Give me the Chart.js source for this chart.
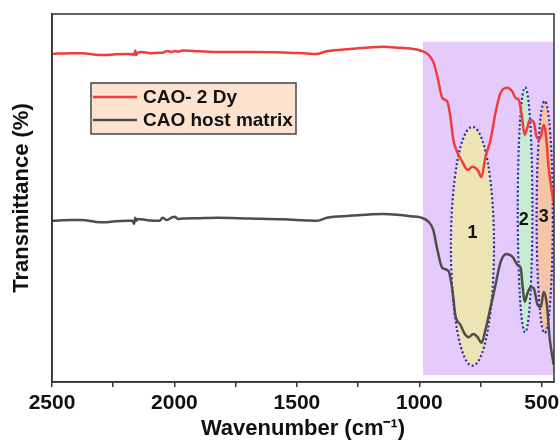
<!DOCTYPE html>
<html><head><meta charset="utf-8">
<script src="https://cdn.jsdelivr.net/npm/chart.js@4.4.1/dist/chart.umd.min.js"></script>
<style>html,body{margin:0;padding:0;background:#fff}</style>
</head><body>
<canvas id="c" width="560" height="440"></canvas>
<script>
const seriesNames = ['CAO- 2 Dy', 'CAO host matrix'];
const xAxisTitle = 'Wavenumber (cm\u207B\u00B9)';
const yAxisTitle = 'Transmittance (%)';

const redWavenumbers = [2500,2420,2377,2320,2287,2240,2190,2172,2165,2160,2156,2150,2135,2100,2060,2049,2030,2010,2000,1985,1967,1900,1828,1693,1557,1460,1418,1400,1377,1283,1148,1078,1037,996,963,943,926,906,885,873,861,844,824,803,783,762,746,730,709,689,668,640,619,607,594,582,570,558,549,533,521,508,492,484,471,455,450];
const redValues = [86.3,86.5,86.5,86.1,86.0,86.2,86.3,86.2,86.0,87.2,86.0,86.6,86.8,86.5,86.6,86.6,87.1,86.8,87.1,86.9,87.2,87.0,86.8,86.8,86.7,86.4,86.3,86.6,87.0,87.6,88.2,87.9,87.7,87.2,86.1,84.2,80.3,74.7,73.7,69.7,63.7,60.3,57.9,55.8,56.6,55.8,53.9,59.2,63.7,70.8,76.1,77.4,76.3,74.7,74.2,70.3,65.0,67.1,68.9,68.4,64.5,63.9,67.6,65.5,55.8,48.7,47.0];

const grayWavenumbers = [2500,2420,2377,2320,2287,2240,2190,2172,2165,2160,2156,2150,2135,2100,2060,2049,2030,2010,2000,1985,1967,1900,1828,1693,1557,1460,1418,1400,1377,1283,1148,1078,1037,996,963,943,926,906,881,865,853,832,812,799,779,762,746,730,709,689,668,644,619,599,586,578,570,558,545,533,517,504,492,480,467,451];
const grayValues = [42.4,42.6,42.6,42.1,42.0,42.3,42.4,42.4,41.6,43.2,42.4,42.9,42.8,42.5,42.4,43.2,42.6,43.3,43.5,42.9,43.0,43.1,43.2,43.0,42.8,42.5,42.4,42.7,43.2,43.7,44.2,43.9,43.6,43.3,42.2,40.0,34.7,30.0,29.2,24.2,17.6,15.0,12.4,11.8,12.6,11.8,10.3,13.7,19.7,25.5,31.6,33.7,32.9,30.8,30.0,25.0,21.1,23.4,25.0,24.7,20.3,19.7,23.7,20.8,11.1,4.5];

const xTickValues = [500,750,1000,1250,1500,1750,2000,2250,2500];
const xTickLabels = ['500','','1000','','1500','','2000','','2500'];

// shaded fingerprint region (wavenumber range and transmittance span)
const regionFrom = 985, regionTo = 450, regionLow = 1.8, regionHigh = 89.5;
// band ellipses (centre wavenumber / level, half-extent in data units)
const bandNames = ['1','2','3'];
const bandCenters = [783, 568, 488];
const bandLevels = [35.7, 45.3, 43.4];
const bandHalfWidths = [88, 30, 33];
const bandHalfHeights = [31.4, 32.2, 30.5];
const bandLabelCenters = [783, 574, 492];
const bandLabelLevels = [39.2, 42.6, 43.4];

const FONT = '"Liberation Sans", Arial, sans-serif';
const seriesColors = ['#f03c3c', '#4d4d4d'];

const mk = (xs, ys) => xs.map((w, i) => ({x: w, y: ys[i]}));

const decor = {
  id: 'decor',
  beforeDatasetsDraw(chart) {
    const {ctx, scales: {x, y}, chartArea: a} = chart;
    ctx.save();
    ctx.beginPath(); ctx.rect(a.left, a.top, a.right - a.left, a.bottom - a.top); ctx.clip();
    const x1 = x.getPixelForValue(regionFrom), x2 = x.getPixelForValue(regionTo);
    const y1 = y.getPixelForValue(regionHigh), y2 = y.getPixelForValue(regionLow);
    ctx.fillStyle = '#e5cbfc';
    ctx.fillRect(x1, y1, x2 - x1, y2 - y1);
    const fills = ['#eee3b4', '#c8ecd3', '#f4c5a6'];
    bandCenters.forEach((c, i) => {
      const cx = x.getPixelForValue(c), cy = y.getPixelForValue(bandLevels[i]);
      const rx = Math.abs(x.getPixelForValue(c + bandHalfWidths[i]) - cx);
      const ry = Math.abs(y.getPixelForValue(bandLevels[i] + bandHalfHeights[i]) - cy);
      ctx.beginPath(); ctx.ellipse(cx, cy, rx, ry, 0, 0, Math.PI * 2);
      ctx.fillStyle = fills[i]; ctx.fill();
      ctx.setLineDash([2, 2.4]); ctx.lineWidth = 2.2; ctx.strokeStyle = '#2a2aa6';
      ctx.stroke();
      ctx.setLineDash([]);
    });
    ctx.fillStyle = '#111';
    ctx.font = 'bold 18px ' + FONT;
    ctx.textAlign = 'center'; ctx.textBaseline = 'middle';
    bandNames.forEach((n, i) => {
      ctx.fillText(n, x.getPixelForValue(bandLabelCenters[i]), y.getPixelForValue(bandLabelLevels[i]));
    });
    ctx.restore();
  },
  afterDraw(chart) {
    const {ctx, chartArea: a} = chart;
    ctx.save();
    ctx.strokeStyle = '#333'; ctx.lineWidth = 1.5;
    ctx.strokeRect(a.left, a.top, a.right - a.left, a.bottom - a.top);
    // legend
    const bx = 91, by = 83, bw = 205, bh = 51;
    ctx.fillStyle = '#fde3cf';
    ctx.fillRect(bx, by, bw, bh);
    ctx.strokeStyle = '#444'; ctx.lineWidth = 1.5;
    ctx.strokeRect(bx, by, bw, bh);
    ctx.font = 'bold 19px ' + FONT;
    ctx.textAlign = 'left'; ctx.textBaseline = 'middle';
    chart.data.datasets.forEach((d, i) => {
      const ly = by + 14 + i * 23;
      ctx.strokeStyle = d.borderColor; ctx.lineWidth = 2.5;
      ctx.beginPath(); ctx.moveTo(bx + 2, ly); ctx.lineTo(bx + 46, ly); ctx.stroke();
      ctx.fillStyle = '#111';
      ctx.fillText(d.label, bx + 52, ly + 1);
    });
    ctx.restore();
  }
};

new Chart(document.getElementById('c'), {
  type: 'line',
  data: {
    datasets: [
      {label: seriesNames[0], data: mk(redWavenumbers, redValues), borderColor: seriesColors[0], borderWidth: 2.5, pointRadius: 0, cubicInterpolationMode: 'monotone', fill: false},
      {label: seriesNames[1], data: mk(grayWavenumbers, grayValues), borderColor: seriesColors[1], borderWidth: 2.5, pointRadius: 0, cubicInterpolationMode: 'monotone', fill: false}
    ]
  },
  options: {
    responsive: false,
    animation: false,
    layout: {padding: {top: 14, right: 6, left: 0, bottom: 0}},
    plugins: {legend: {display: false}, tooltip: {enabled: false}},
    scales: {
      x: {
        type: 'linear', min: 450, max: 2500, reverse: true,
        afterBuildTicks: s => { s.ticks = xTickValues.map(v => ({value: v})); },
        afterFit: s => { s.height = 58; },
        ticks: {
          autoSkip: false, maxRotation: 0, padding: 4, color: '#111',
          font: {family: FONT, size: 21, weight: 'bold'},
          callback: v => xTickLabels[xTickValues.indexOf(v)]
        },
        grid: {display: true, drawOnChartArea: false, drawTicks: true, tickLength: 5, color: '#333', lineWidth: 1.5},
        border: {display: true, color: '#333', width: 1.5},
        title: {display: true, text: xAxisTitle, color: '#111', padding: {top: 0, bottom: 0},
          font: {family: FONT, size: 22, weight: 'bold', lineHeight: 1.0}}
      },
      y: {
        min: 0, max: 96.8,
        afterFit: s => { s.width = 52; },
        ticks: {display: false},
        grid: {display: false},
        border: {display: true, color: '#333', width: 1.5},
        title: {display: true, text: yAxisTitle, color: '#111', padding: {top: 11, bottom: 0},
          font: {family: FONT, size: 22, weight: 'bold', lineHeight: 1.0}}
      }
    }
  },
  plugins: [decor]
});
</script>
</body></html>
